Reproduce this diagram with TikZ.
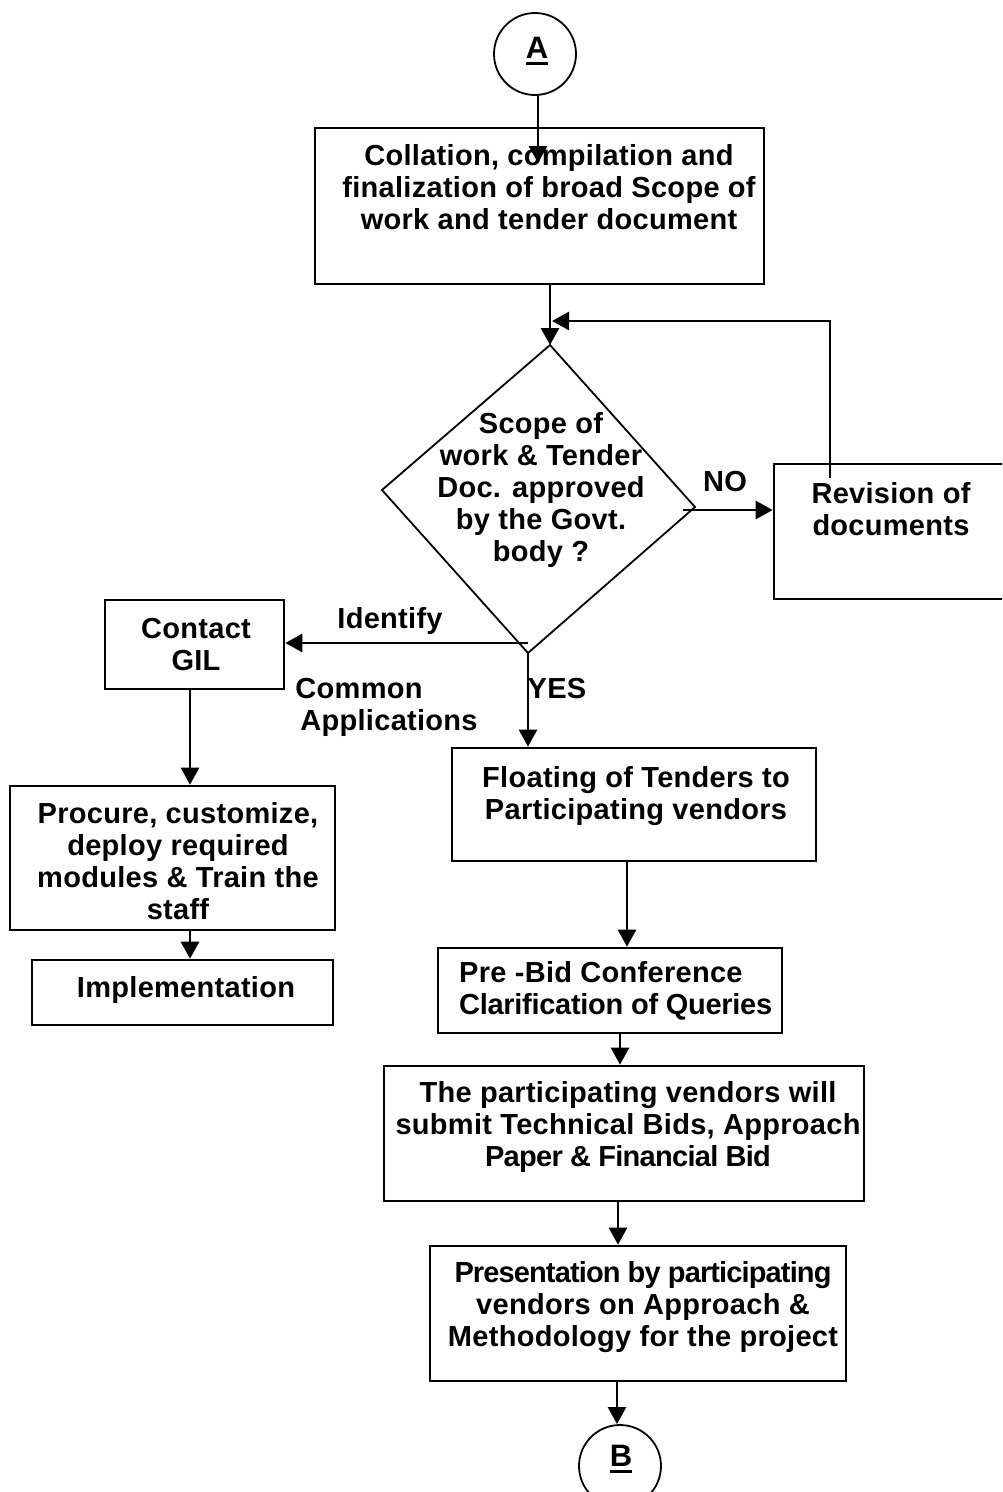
\documentclass[tikz,border=0pt]{standalone}
\usepackage{fontspec}
\setmainfont{Liberation Sans}[LetterSpace=1]
\usetikzlibrary{arrows.meta}
% thick underline for the connector letters
\newcommand\ulbold[1]{\setbox0\hbox{#1}\rlap{\rule[-6pt]{\wd0}{3pt}}\box0}
% tighter tracking for a single line
\newcommand\tight[2]{{\addfontfeature{LetterSpace=#1}#2}}
\begin{document}
\begin{tikzpicture}[x=1pt,y=-1pt,
  box/.style={draw, line width=2.6pt, rectangle, inner sep=0pt},
  txt/.style={font=\bfseries\fontsize{29}{32}\selectfont, align=center, inner sep=0pt},
  big/.style={font=\bfseries\fontsize{31}{32}\selectfont, inner sep=0pt},
  conn/.style={draw, line width=1.8pt, circle, inner sep=0pt, minimum size=82pt},
  arr/.style={line width=2.6pt, -{Triangle[length=17pt,width=18pt]}}]
\useasboundingbox (0,0) rectangle (1002,1492);
\clip (0,0) rectangle (1002,1492);

% connectors A and B
\node[conn] (A) at (535,54) {};
\node[big] (Atxt) at (537,51) {\ulbold{A}};
\node[conn] (B) at (620,1466) {};
\node[big] (Btxt) at (621,1459) {\ulbold{B}};

% boxes
\node[box, minimum width=449pt, minimum height=156pt] (b1) at (539.5,206) {};
\node[txt] (b1t) at (549,187) {Collation, compilation and\\finalization of broad Scope of\\work and tender document};

\node[box, minimum width=236pt, minimum height=135pt] (rev) at (892,531.5) {};
\node[txt] (revt) at (891,509) {Revision of\\documents};

\node[box, minimum width=179pt, minimum height=89pt] (gil) at (194.5,644.5) {};
\node[txt] (gilt) at (196,645) {Contact\\GIL};

\node[box, minimum width=325pt, minimum height=144pt] (proc) at (172.5,858) {};
\node[txt] (proct) at (178,861) {Procure, customize,\\deploy required\\modules \& Train the\\staff};

\node[box, minimum width=301pt, minimum height=65pt] (impl) at (182.5,992.5) {};
\node[txt] (implt) at (186,990) {Implementation};

\node[box, minimum width=364pt, minimum height=113pt] (flt) at (634,804.5) {};
\node[txt] (fltt) at (636,796) {Floating of Tenders to\\Participating vendors};

\node[box, minimum width=344pt, minimum height=85pt] (pre) at (610,990.5) {};
\node[txt, align=left, anchor=west] (pret) at (459,991) {Pre -Bid Conference\\\tight{-1}{Clarification of Queries}};

\node[box, minimum width=480pt, minimum height=135pt] (part) at (624,1133.5) {};
\node[txt] (partt) at (628,1127) {The participating vendors will\\submit Technical Bids, Approach\\\tight{-2.5}{Paper \& Financial Bid}};

\node[box, minimum width=416pt, minimum height=135pt] (pres) at (638,1313.5) {};
\node[txt] (prest) at (643,1307) {\tight{-3}{Presentation by participating}\\vendors on Approach \&\\Methodology for the project};

% decision diamond
\coordinate (dT) at (550,345);
\coordinate (dR) at (695,507);
\coordinate (dB) at (528,653);
\coordinate (dL) at (382,490);
\draw[line width=1.8pt, line join=miter] (dT) -- (dR) -- (dB) -- (dL) -- cycle;
\node[txt] (dt) at (541,490) {Scope of\\work \& Tender\\Doc. approved\\by the Govt.\\body ?};

% edge labels
\node[txt] (no) at (725,482) {NO};
\node[txt] (yes) at (557,689) {YES};
\node[txt] (ident) at (390,621) {Identify};
\node[txt] (common) at (359,689) {Common};
\node[txt] (apps) at (389,723) {Applications};

% helper coordinates
\coordinate (aEnd) at (538,163);
\coordinate (loopStart) at (830,478);
\coordinate (loopEnd) at (552,321);
\coordinate (noStart) at (683,510);
\coordinate (idStart) at (528,643);
\coordinate (xA) at (538,0);
\coordinate (xL) at (190,0);
\coordinate (x627) at (627,0);
\coordinate (x620) at (620,0);
\coordinate (x618) at (618,0);
\coordinate (x617) at (617,0);

% connectors
\draw[arr] (xA |- A.south) -- (aEnd);
\draw[arr] (dT |- b1.south) -- (dT);
\draw[arr] (loopStart) |- (loopEnd);
\draw[arr] (noStart) -- (rev.west |- noStart);
\draw[arr] (idStart) -- (gil.east |- idStart);
\draw[arr] (dB) -- (dB |- flt.north);
\draw[arr] (xL |- gil.south) -- (xL |- proc.north);
\draw[arr] (xL |- proc.south) -- (xL |- impl.north);
\draw[arr] (x627 |- flt.south) -- (x627 |- pre.north);
\draw[arr] (x620 |- pre.south) -- (x620 |- part.north);
\draw[arr] (x618 |- part.south) -- (x618 |- pres.north);
\draw[arr] (x617 |- pres.south) -- (x617 |- B.north);
\end{tikzpicture}
\end{document}
